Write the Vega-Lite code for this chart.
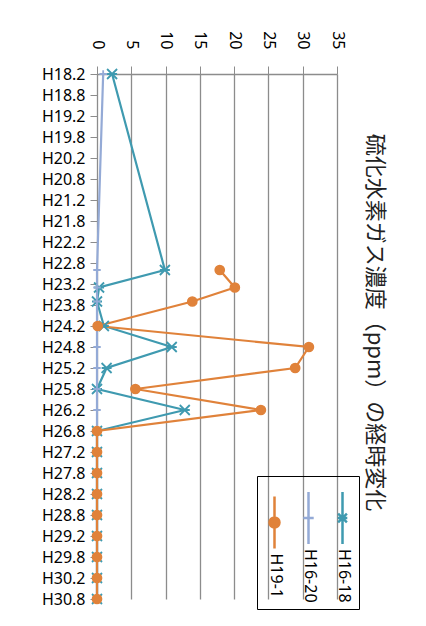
{
  "$schema": "https://vega.github.io/schema/vega-lite/v6.json",
  "width": 240,
  "height": 525,
  "autosize": {"type": "none"},
  "padding": {"left": 97, "top": 74, "right": 89, "bottom": 27},
  "background": "white",
  "title": {
    "text": "硫化水素ガス濃度（ppm）の経時変化",
    "orient": "right",
    "anchor": "middle",
    "frame": "group",
    "angle": 90,
    "offset": 3,
    "dx": -14,
    "font": "Noto Sans CJK JP",
    "fontSize": 22,
    "fontWeight": "normal",
    "color": "#222"
  },
  "config": {
    "view": {"stroke": null},
    "axis": {"labelFont": "Noto Sans", "labelColor": "#000", "labelFontSize": 16}
  },
  "data": {
    "values": [
      {"series": "H16-18", "m": 0, "v": 2.2},
      {"series": "H16-18", "m": 56, "v": 9.9},
      {"series": "H16-18", "m": 61, "v": 0.3},
      {"series": "H16-18", "m": 65, "v": 0},
      {"series": "H16-18", "m": 72, "v": 1.0},
      {"series": "H16-18", "m": 78, "v": 10.9},
      {"series": "H16-18", "m": 84, "v": 1.4},
      {"series": "H16-18", "m": 90, "v": 0},
      {"series": "H16-18", "m": 96, "v": 12.8},
      {"series": "H16-18", "m": 102, "v": 0},
      {"series": "H16-18", "m": 108, "v": 0},
      {"series": "H16-18", "m": 114, "v": 0},
      {"series": "H16-18", "m": 120, "v": 0},
      {"series": "H16-18", "m": 126, "v": 0},
      {"series": "H16-18", "m": 132, "v": 0},
      {"series": "H16-18", "m": 138, "v": 0},
      {"series": "H16-18", "m": 144, "v": 0},
      {"series": "H16-18", "m": 150, "v": 0},
      {"series": "H16-20", "m": 0, "v": 0.9},
      {"series": "H16-20", "m": 56, "v": 0},
      {"series": "H16-20", "m": 61, "v": 0},
      {"series": "H16-20", "m": 65, "v": 0},
      {"series": "H16-20", "m": 72, "v": 0},
      {"series": "H16-20", "m": 78, "v": 0},
      {"series": "H16-20", "m": 84, "v": 0},
      {"series": "H16-20", "m": 90, "v": 0},
      {"series": "H16-20", "m": 96, "v": 0},
      {"series": "H16-20", "m": 102, "v": 0},
      {"series": "H16-20", "m": 108, "v": 0},
      {"series": "H16-20", "m": 114, "v": 0},
      {"series": "H16-20", "m": 120, "v": 0},
      {"series": "H16-20", "m": 126, "v": 0},
      {"series": "H16-20", "m": 132, "v": 0},
      {"series": "H16-20", "m": 138, "v": 0},
      {"series": "H16-20", "m": 144, "v": 0},
      {"series": "H16-20", "m": 150, "v": 0},
      {"series": "H19-1", "m": 56, "v": 17.9},
      {"series": "H19-1", "m": 61, "v": 20.1},
      {"series": "H19-1", "m": 65, "v": 13.9},
      {"series": "H19-1", "m": 72, "v": 0.1},
      {"series": "H19-1", "m": 78, "v": 30.9},
      {"series": "H19-1", "m": 84, "v": 28.9},
      {"series": "H19-1", "m": 90, "v": 5.6},
      {"series": "H19-1", "m": 96, "v": 23.9},
      {"series": "H19-1", "m": 102, "v": 0},
      {"series": "H19-1", "m": 108, "v": 0},
      {"series": "H19-1", "m": 114, "v": 0},
      {"series": "H19-1", "m": 120, "v": 0},
      {"series": "H19-1", "m": 126, "v": 0},
      {"series": "H19-1", "m": 132, "v": 0},
      {"series": "H19-1", "m": 138, "v": 0},
      {"series": "H19-1", "m": 144, "v": 0},
      {"series": "H19-1", "m": 150, "v": 0}
    ]
  },
  "encoding": {
    "x": {
      "field": "v",
      "type": "quantitative",
      "scale": {"domain": [0, 35], "nice": false, "zero": true},
      "axis": {
        "orient": "top",
        "title": null,
        "values": [0, 5, 10, 15, 20, 25, 30, 35],
        "labelAngle": 90,
        "labelAlign": "right",
        "labelBaseline": "middle",
        "labelPadding": 17,
        "tickSize": 8,
        "tickColor": "#8c8c8c",
        "domainColor": "#8c8c8c",
        "domainWidth": 1.3,
        "grid": true,
        "gridColor": "#8c8c8c",
        "gridWidth": 1.3
      }
    },
    "y": {
      "field": "m",
      "type": "quantitative",
      "scale": {"domain": [0, 150], "nice": false, "reverse": true},
      "axis": {
        "orient": "left",
        "title": null,
        "grid": false,
        "values": [0, 6, 12, 18, 24, 30, 36, 42, 48, 54, 60, 66, 72, 78, 84, 90, 96, 102, 108, 114, 120, 126, 132, 138, 144, 150],
        "labelExpr": "'H' + (18 + floor(datum.value / 12)) + '.' + (datum.value % 12 === 0 ? '2' : '8')",
        "tickSize": 7,
        "labelPadding": 5,
        "tickColor": "#8c8c8c",
        "domainColor": "#8c8c8c",
        "labelOverlap": false
      }
    }
  },
  "layer": [
    {
      "mark": {"type": "line", "strokeWidth": 2.2},
      "encoding": {
        "order": {"field": "m", "type": "quantitative"},
        "color": {
          "field": "series",
          "type": "nominal",
          "scale": {"domain": ["H19-1", "H16-20", "H16-18"], "range": ["#E0823A", "#94AAD6", "#3F9AB0"]},
          "legend": {
            "title": null,
            "orient": "none",
            "legendX": 160,
            "legendY": 402,
            "direction": "horizontal",
            "columns": 3,
            "padding": 6,
            "columnPadding": 12,
            "strokeColor": "#000",
            "symbolSize": 400,
            "symbolStrokeWidth": 2.5,
            "symbolOffset": 0,
            "labelOffset": -10,
            "labelFont": "Noto Sans",
            "labelFontSize": 16,
            "labelColor": "#000",
            "encoding": {
              "labels": {
                "angle": {"value": 90},
                "align": {"value": "left"},
                "baseline": {"value": "middle"},
                "dx": {"value": 55}
              },
              "symbols": {
                "shape": {"value": {"expr": "datum.value === 'H19-1' ? 'M0,-0.2L0,5M-0.5,2.4a0.5,0.5 0 1,0 1,0a0.5,0.5 0 1,0 -1,0' : datum.value === 'H16-20' ? 'M0,-0.2L0,5M-0.52,2.4L0.52,2.4' : 'M0,-0.2L0,5M-0.44,1.96L0.44,2.84M-0.44,2.84L0.44,1.96M-0.48,2.4L0.48,2.4'"}},
                "fill": {"value": {"expr": "datum.value === 'H19-1' ? '#E0823A' : 'transparent'"}},
                "fillOpacity": {"value": 1}
              }
            }
          }
        }
      }
    },
    {
      "transform": [{"filter": "datum.series === 'H16-18'"}],
      "mark": {"type": "point", "shape": "M-1,-1L1,1M-1,1L1,-1M-1,0L1,0", "size": 100, "filled": false, "stroke": "#3F9AB0", "strokeWidth": 1.8, "opacity": 1}
    },
    {
      "transform": [{"filter": "datum.series === 'H16-20'"}],
      "mark": {"type": "point", "shape": "M-1,0L1,0M0,-1L0,1", "size": 56, "filled": false, "stroke": "#94AAD6", "strokeWidth": 1.8, "opacity": 1}
    },
    {
      "transform": [{"filter": "datum.series === 'H19-1'"}],
      "mark": {"type": "point", "shape": "circle", "size": 85, "filled": true, "fill": "#E0823A", "stroke": "#E0823A", "strokeWidth": 1.5, "opacity": 1}
    }
  ]
}
